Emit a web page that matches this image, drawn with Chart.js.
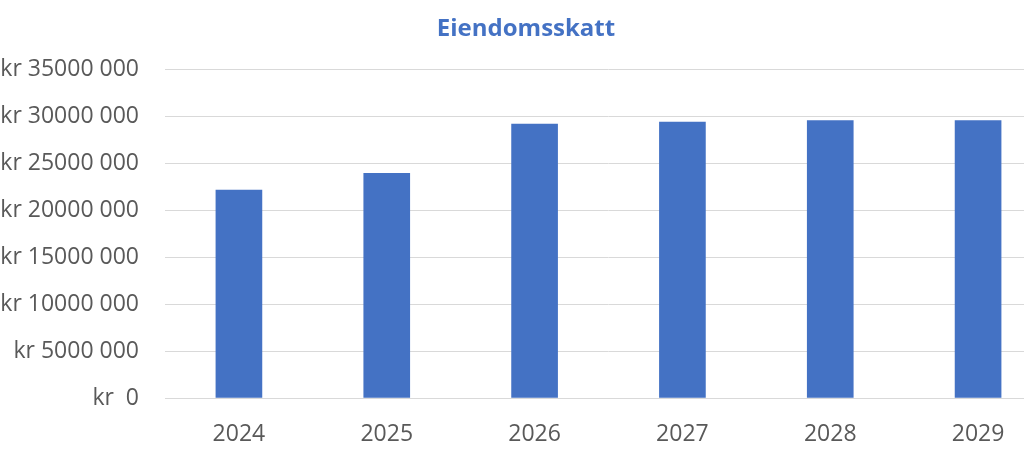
<!DOCTYPE html>
<html>
<head>
<meta charset="utf-8">
<script src="https://cdn.jsdelivr.net/npm/chart.js@4.4.1/dist/chart.umd.min.js"></script>
<style>
  html, body { margin: 0; padding: 0; background: #fff; overflow: hidden; }
  .wrap { position: relative; width: 1052px; height: 451px; }
</style>
</head>
<body>
<div class="wrap"><canvas id="chart"></canvas></div>
<script>
// data
const years = ['2024', '2025', '2026', '2027', '2028', '2029'];
const skatt = [22130000, 23890000, 29150000, 29360000, 29500000, 29500000];
const yTicks = [0, 5000000, 10000000, 15000000, 20000000, 25000000, 30000000, 35000000];
const yTickLabels = ['kr  0', 'kr 5000 000', 'kr 10000 000', 'kr 15000 000', 'kr 20000 000', 'kr 25000 000', 'kr 30000 000', 'kr 35000 000'];

const grey = '#595959';
const gridCol = '#d9d9d9';

new Chart(document.getElementById('chart'), {
  type: 'bar',
  data: {
    labels: years,
    datasets: [{ data: skatt, backgroundColor: '#4472C4', barThickness: 46 }]
  },
  options: {
    responsive: true,
    maintainAspectRatio: false,
    animation: false,
    layout: { padding: 0 },
    plugins: {
      legend: { display: false },
      tooltip: { enabled: false },
      title: {
        display: true,
        text: 'Eiendomsskatt',
        color: '#4472C4',
        font: { family: 'Open Sans', size: 24, weight: 'bold', lineHeight: 1.2 },
        padding: { top: 15, bottom: 25.2 }
      }
    },
    scales: {
      x: {
        grid: { display: false },
        border: { display: true, color: gridCol },
        ticks: { color: grey, font: { family: 'Open Sans', size: 23 }, padding: 15, maxRotation: 0 },
        afterFit: (s) => { s.height = 53; }
      },
      y: {
        min: 0,
        max: 35000000,
        afterBuildTicks: (s) => { s.ticks = yTicks.map(v => ({ value: v })); },
        grid: { color: gridCol, drawTicks: false },
        border: { display: false },
        ticks: {
          color: grey,
          font: { family: 'Open Sans', size: 23 },
          padding: 26,
          callback: (v) => yTickLabels[yTicks.indexOf(v)]
        },
        afterFit: (s) => { s.width = 165; }
      }
    }
  }
});
</script>
</body>
</html>
